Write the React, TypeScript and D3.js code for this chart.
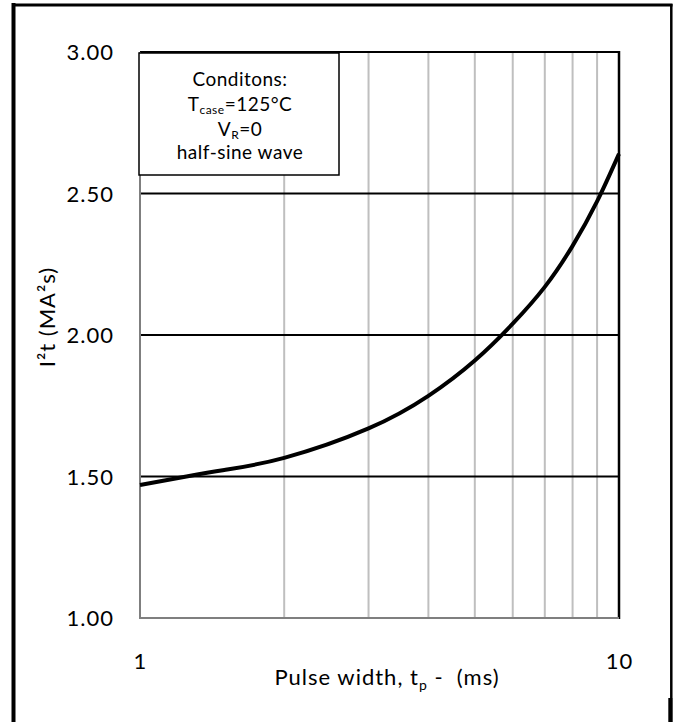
import { useEffect, useRef } from 'react'
import * as d3 from 'd3'

// pulse width (ms) and I²t (MA²s)
const PULSE_MS = [1, 1.25, 1.5, 2, 3, 4, 5, 6, 7, 8, 9, 10]
const I2T = [1.47, 1.5, 1.523, 1.566, 1.67, 1.785, 1.91, 2.04, 2.17, 2.315, 2.472, 2.64]

const Y_TICKS = [1, 1.5, 2, 2.5, 3]
const X_TICKS = [1, 10]
const X_GRID = [2, 3, 4, 5, 6, 7, 8, 9]

const FONT = 'Lato, "Open Sans", sans-serif'

export default function App() {
  const svgRef = useRef<SVGSVGElement>(null)

  useEffect(() => {
    if (!svgRef.current) return
    const svg = d3.select(svgRef.current)
    svg.selectAll('*').remove()

    const plot = { left: 140, right: 619, top: 52, bottom: 618 }
    const x = d3.scaleLog().domain([1, 10]).range([plot.left, plot.right])
    const y = d3.scaleLinear().domain([1, 3]).range([plot.bottom, plot.top])

    svg.append('rect').attr('width', 677).attr('height', 722).attr('fill', '#fff')

    // outer frame (cropped, no bottom edge)
    svg.append('line').attr('x1', 13.5).attr('x2', 13.5).attr('y1', 3).attr('y2', 722)
      .attr('stroke', '#000').attr('stroke-width', 4)
    svg.append('line').attr('x1', 12).attr('x2', 672.5).attr('y1', 5).attr('y2', 5)
      .attr('stroke', '#000').attr('stroke-width', 3)
    svg.append('line').attr('x1', 671.3).attr('x2', 671.3).attr('y1', 4).attr('y2', 698)
      .attr('stroke', '#000').attr('stroke-width', 2.5)
    svg.append('line').attr('x1', 670.5).attr('x2', 670.5).attr('y1', 698).attr('y2', 722)
      .attr('stroke', '#000').attr('stroke-width', 4.4)

    const g = svg.append('g')

    // vertical grid (log decades)
    g.selectAll('.vgrid').data(X_GRID).enter().append('line')
      .attr('x1', d => x(d)).attr('x2', d => x(d))
      .attr('y1', plot.top).attr('y2', plot.bottom)
      .attr('stroke', '#BFBFBF').attr('stroke-width', 2)

    // horizontal grid
    g.selectAll('.hgrid').data(Y_TICKS.slice(1)).enter().append('line')
      .attr('x1', plot.left).attr('x2', plot.right)
      .attr('y1', d => y(d)).attr('y2', d => y(d))
      .attr('stroke', '#000').attr('stroke-width', 2)

    // plot border: right black, left/bottom gray axes
    g.append('line').attr('x1', plot.right).attr('x2', plot.right)
      .attr('y1', plot.top - 1).attr('y2', plot.bottom + 1)
      .attr('stroke', '#000').attr('stroke-width', 2.5)
    g.append('line').attr('x1', plot.left).attr('x2', plot.left)
      .attr('y1', plot.top).attr('y2', plot.bottom + 1)
      .attr('stroke', '#7F7F7F').attr('stroke-width', 2)
    g.append('line').attr('x1', plot.left - 1).attr('x2', plot.right)
      .attr('y1', plot.bottom).attr('y2', plot.bottom)
      .attr('stroke', '#7F7F7F').attr('stroke-width', 2)

    // curve
    const line = d3.line<number>()
      .x((_, i) => x(PULSE_MS[i]))
      .y(d => y(d))
      .curve(d3.curveNatural)
    g.append('path').datum(I2T).attr('d', line)
      .attr('fill', 'none').attr('stroke', '#000').attr('stroke-width', 4)

    // conditions box
    g.append('rect').attr('x', 139).attr('y', 53).attr('width', 200).attr('height', 122)
      .attr('fill', '#fff').attr('stroke', '#000').attr('stroke-width', 1.5)

    const legend = g.append('g').attr('font-family', FONT).attr('font-size', 19)
      .attr('letter-spacing', 0.5).attr('fill', '#000').attr('text-anchor', 'middle')
    legend.append('text').attr('x', 240).attr('y', 86).text('Conditons:')
    const t1 = legend.append('text').attr('x', 240).attr('y', 111)
    t1.append('tspan').text('T')
    t1.append('tspan').attr('font-size', 12).attr('dy', 2.5).text('case')
    t1.append('tspan').attr('dy', -2.5).text('=125°C')
    const t2 = legend.append('text').attr('x', 240).attr('y', 136)
    t2.append('tspan').text('V')
    t2.append('tspan').attr('font-size', 12).attr('dy', 2.5).text('R')
    t2.append('tspan').attr('dy', -2.5).text('=0')
    legend.append('text').attr('x', 240).attr('y', 159).text('half-sine wave')

    // tick labels
    svg.append('g').selectAll('text').data(Y_TICKS).enter().append('text')
      .attr('x', 114).attr('y', d => y(d) + 8)
      .attr('text-anchor', 'end').attr('font-family', FONT).attr('font-size', 22)
      .attr('letter-spacing', 1)
      .text(d => d.toFixed(2))
    svg.append('g').selectAll('text').data(X_TICKS).enter().append('text')
      .attr('x', d => x(d) + 0.5).attr('y', 669)
      .attr('text-anchor', 'middle').attr('font-family', FONT).attr('font-size', 22)
      .attr('letter-spacing', 1)
      .text(d => String(d))

    // axis titles
    const xt = svg.append('text').attr('x', 387).attr('y', 685)
      .attr('text-anchor', 'middle').attr('font-family', FONT).attr('font-size', 22)
      .attr('letter-spacing', 1).style('white-space', 'pre')
    xt.append('tspan').text('Pulse width, t')
    xt.append('tspan').attr('font-size', 14).attr('dy', 5).text('p')
    xt.append('tspan').attr('dy', -5).text(' -  (ms)')

    svg.append('text').attr('transform', 'translate(55,317) rotate(-90)')
      .attr('text-anchor', 'middle').attr('font-family', FONT).attr('font-size', 22)
      .attr('letter-spacing', 1)
      .text('I²t (MA²s)')
  }, [])

  return (
    <svg ref={svgRef} width={677} height={722}
      style={{ position: 'absolute', left: 0, top: 0, display: 'block' }} />
  )
}
